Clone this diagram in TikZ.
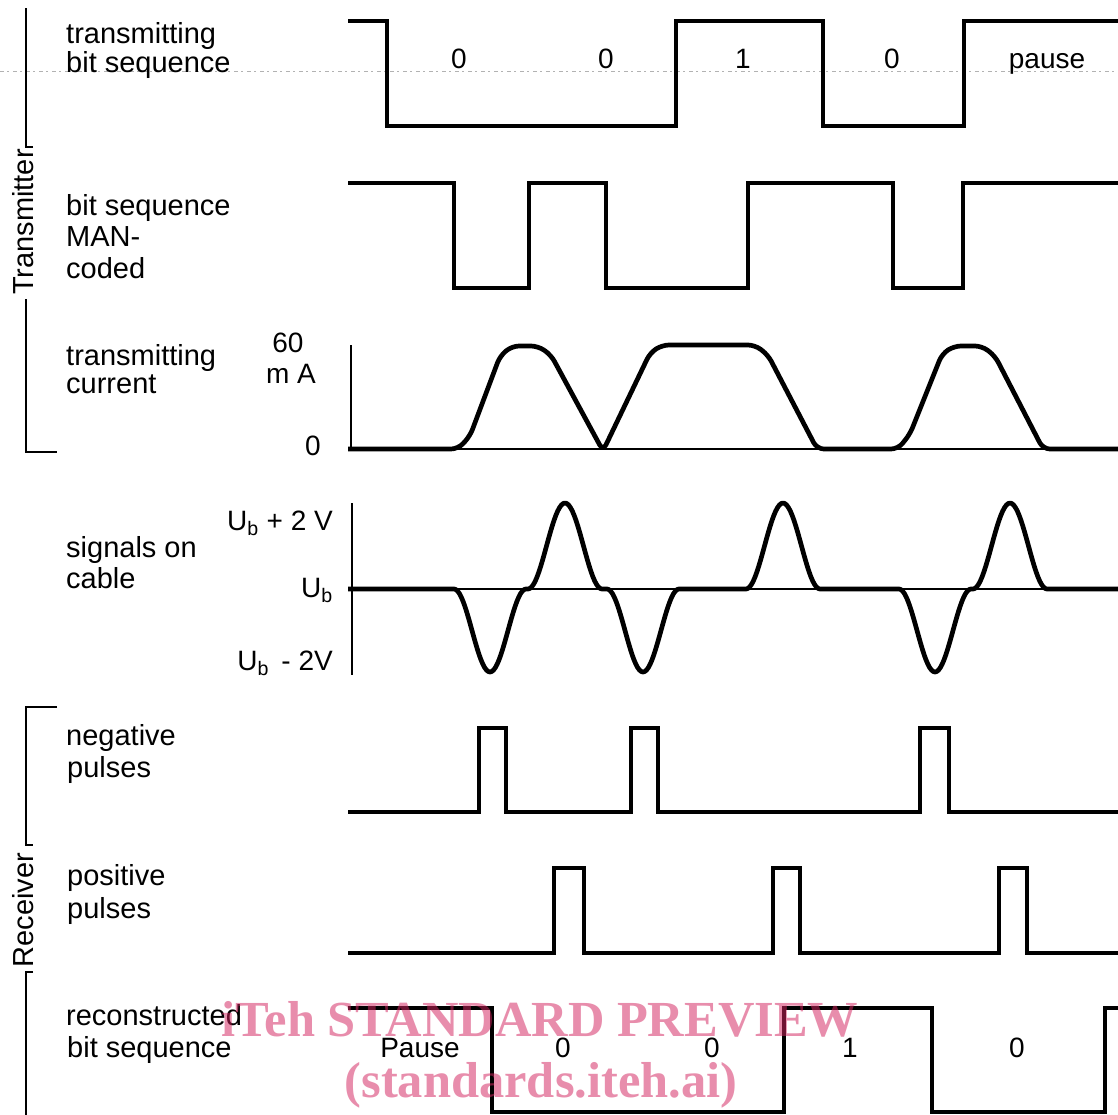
\documentclass[tikz,border=0pt]{standalone}
\usepackage{fontspec}
\setmainfont{Liberation Sans}
\newfontfamily\markfont{Liberation Serif}
\definecolor{wmpink}{RGB}{211,38,96}
\begin{document}
\begin{tikzpicture}[x=1pt,y=-1pt,
  sig/.style={line width=4.7pt, line join=miter},
  axisline/.style={line width=2.2pt},
  brk/.style={line width=2.6pt},
  lbl/.style={anchor=base west, inner sep=0pt, font=\fontsize{29}{31}\selectfont},
  val/.style={anchor=base, inner sep=0pt, font=\fontsize{28}{30}\selectfont},
  valr/.style={anchor=base east, inner sep=0pt, font=\fontsize{28}{30}\selectfont},
  side/.style={anchor=base, rotate=90, inner sep=0pt, font=\fontsize{29}{31}\selectfont},
  wmark/.style={anchor=base, inner sep=0pt, text=wmpink, opacity=0.52,
                font=\markfont\bfseries\fontsize{50.5}{52}\selectfont},
  declare function={rc(\x,\c,\w)=0.5*(1+cos(180*(\x-\c)/\w));}]
\useasboundingbox (0,0) rectangle (1118,1114);
\fill[white] (0,0) rectangle (1118,1114);

% faint dotted guide line near the top
\draw[gray!60, line width=1pt, dash pattern=on 4pt off 3pt on 2pt off 4pt] (0,71) -- (1118,71);

% ---- group brackets ----
\draw[brk] (33,147) -- (26,147) -- (26,8);
\draw[brk] (26,299) -- (26,452) -- (57,452);
\node[side] (tx) at (33,222) {Transmitter};
\draw[brk] (57,707) -- (26,707) -- (26,845) -- (33,845);
\draw[brk] (33,972) -- (26,972) -- (26,1116);
\node[side] (rx) at (33,910) {Receiver};

% ---- row labels ----
\node[lbl] (l1a) at (66,43) {transmitting};
\node[lbl] (l1b) at (66,72) {bit sequence};
\node[lbl] (l2a) at (66,215) {bit sequence};
\node[lbl] (l2b) at (66,246) {MAN-};
\node[lbl] (l2c) at (66,278) {coded};
\node[lbl] (l3a) at (66,365) {transmitting};
\node[lbl] (l3b) at (66,393) {current};
\node[lbl] (l4a) at (66,557) {signals on};
\node[lbl] (l4b) at (66,588) {cable};
\node[lbl] (l5a) at (66,745) {negative};
\node[lbl] (l5b) at (67,777) {pulses};
\node[lbl] (l6a) at (67,885) {positive};
\node[lbl] (l6b) at (67,918) {pulses};
\node[lbl] (l7a) at (66,1025) {reconstructed};
\node[lbl] (l7b) at (67,1057) {bit sequence};

% ---- row 1: transmitted bit sequence ----
\draw[sig] (348,21) -- (387,21) -- (387,126) -- (676,126) -- (676,21) -- (823,21)
  -- (823,126) -- (964,126) -- (964,21) -- (1122,21);
\node[val] (b1) at (459,68) {0};
\node[val] (b2) at (606,68) {0};
\node[val] (b3) at (743,68) {1};
\node[val] (b4) at (892,68) {0};
\node[val] (b5) at (1047,68) {pause};

% ---- row 2: Manchester coded ----
\draw[sig] (348,183) -- (454,183) -- (454,288) -- (529,288) -- (529,183) -- (606,183)
  -- (606,288) -- (748,288) -- (748,183) -- (893,183) -- (893,288) -- (963,288)
  -- (963,183) -- (1122,183);

% ---- row 3: transmitting current ----
\draw[axisline] (351,345) -- (351,450);
\draw[axisline] (348,449) -- (1122,449);
\node[val] (c60) at (288,352) {60};
\node[val] (cmA) at (291,383) {m A};
\node[val] (c0) at (313,455) {0};
\draw[sig, rounded corners=7pt] (348,449) -- (458,449) -- (470,436) -- (500,356)
  -- (512,346) -- (538,346) -- (551,355) -- (603,451) -- (650,353) -- (662,345)
  -- (755,345) -- (768,355) -- (817,449) -- (898,449) -- (910,434) -- (942,354)
  -- (954,346) -- (982,346) -- (995,356) -- (1043,449) -- (1122,449);

% ---- row 4: signals on cable ----
\draw[axisline] (352,503) -- (352,675);
\draw[axisline] (348,589) -- (1122,589);
\node[valr] (u1) at (333,530) {U\textsubscript{b} + 2 V};
\node[valr] (u0) at (333,597) {U\textsubscript{b}};
\node[valr] (u2) at (333,670) {U\textsubscript{b} \,- 2V};
\draw[sig, line join=round] (348,589) -- (454,589)
  -- plot[domain=454:526, samples=41] (\x,{589+83*rc(\x,490,36)})
  -- plot[domain=528:602, samples=41] (\x,{589-86*rc(\x,565,37)})
  -- plot[domain=607:679, samples=41] (\x,{589+83*rc(\x,643,36)})
  -- (746,589)
  -- plot[domain=746:820, samples=41] (\x,{589-86*rc(\x,783,37)})
  -- (899,589)
  -- plot[domain=899:971, samples=41] (\x,{589+83*rc(\x,935,36)})
  -- plot[domain=973:1047, samples=41] (\x,{589-86*rc(\x,1010,37)})
  -- (1122,589);

% ---- row 5: negative pulses ----
\draw[sig] (348,812) -- (479,812) -- (479,728) -- (506,728) -- (506,812) -- (631,812)
  -- (631,728) -- (658,728) -- (658,812) -- (920,812) -- (920,728) -- (949,728)
  -- (949,812) -- (1122,812);

% ---- row 6: positive pulses ----
\draw[sig] (348,953) -- (554,953) -- (554,868) -- (584,868) -- (584,953) -- (773,953)
  -- (773,868) -- (800,868) -- (800,953) -- (999,953) -- (999,868) -- (1027,868)
  -- (1027,953) -- (1122,953);

% ---- row 7: reconstructed bit sequence ----
\draw[sig] (348,1008) -- (492,1008) -- (492,1112) -- (784,1112) -- (784,1008)
  -- (932,1008) -- (932,1112) -- (1105,1112) -- (1105,1008) -- (1122,1008);
\node[val] (r1) at (420,1057) {Pause};
\node[val] (r2) at (563,1057) {0};
\node[val] (r3) at (712,1057) {0};
\node[val] (r4) at (850,1057) {1};
\node[val] (r5) at (1017,1057) {0};

% ---- overprinted mark ----
\node[wmark] (wm1) at (540,1036) {iTeh STANDARD PREVIEW};
\node[wmark] (wm2) at (541,1097) {(standards.iteh.ai)};
\end{tikzpicture}
\end{document}
